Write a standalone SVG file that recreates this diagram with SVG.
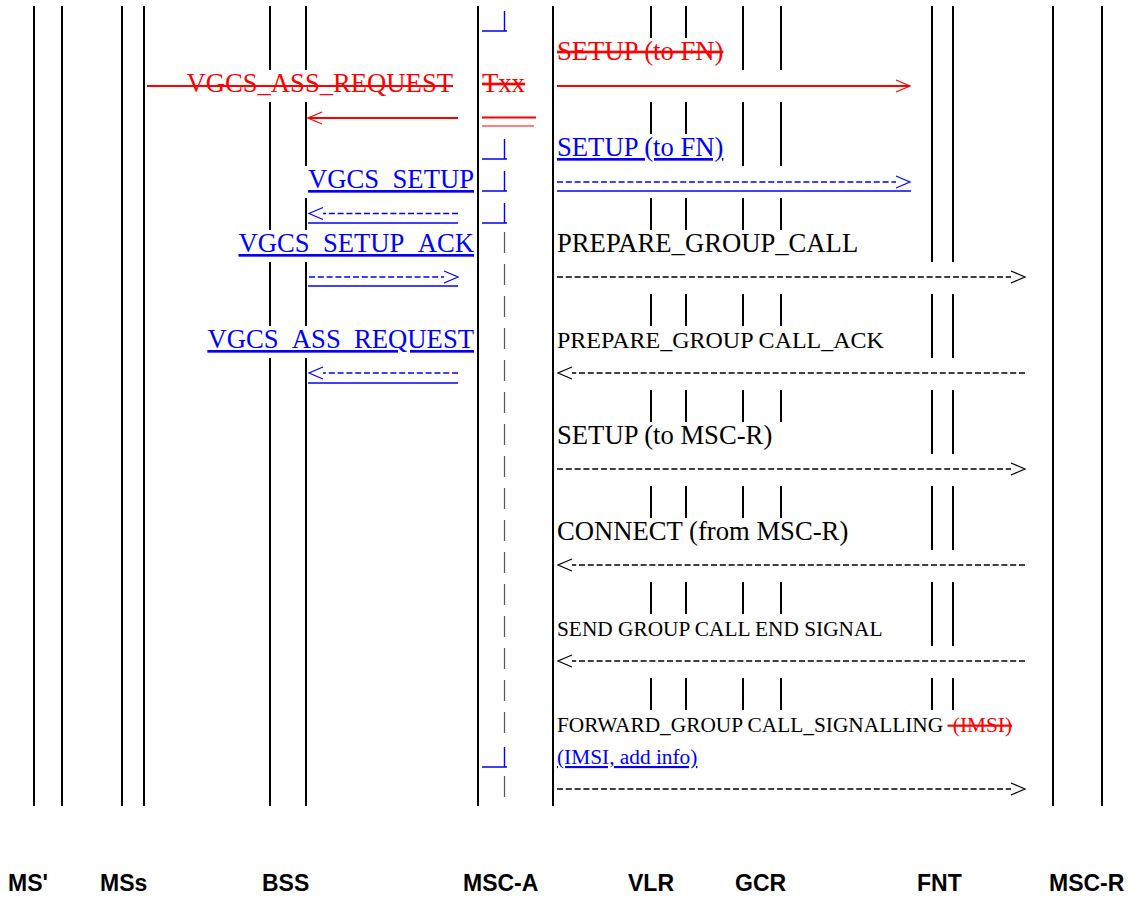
<svg xmlns="http://www.w3.org/2000/svg" width="1134" height="897" viewBox="0 0 1134 897">
<style>
.ll{stroke:#000;stroke-width:2;fill:none}
.t{font-family:"Liberation Serif","Times New Roman",serif;font-size:26.67px;fill:#000}
.s16{font-size:21.33px}
.s18{font-size:24px}
.blue{fill:#00f;text-decoration:underline}
.red{fill:#f00}
.lbl{font-family:"Liberation Sans",Arial,sans-serif;font-weight:bold;font-size:23px;fill:#000}
.dk{stroke:#000;stroke-width:1.4;stroke-dasharray:6 2.8;fill:none}
.db{stroke:#00f;stroke-width:1.4;stroke-dasharray:6 2.8;fill:none}
.ub{stroke:#00f;stroke-width:1.6;fill:none}
.sr{stroke:#f00;stroke-width:1.8;fill:none}
.act{stroke:#555;stroke-width:1.2;fill:none}
.actb{stroke:#00f;stroke-width:1.4;fill:none}
</style>
<defs>
<marker id="hk" markerUnits="userSpaceOnUse" markerWidth="16" markerHeight="14" refX="0" refY="7" orient="auto" overflow="visible"><path d="M0,1 L14,7 L0,13" fill="none" stroke="#000" stroke-width="1.2"/></marker>
<marker id="hb" markerUnits="userSpaceOnUse" markerWidth="16" markerHeight="14" refX="0" refY="7" orient="auto" overflow="visible"><path d="M0,1 L14,7 L0,13" fill="none" stroke="#00f" stroke-width="1.2"/></marker>
<marker id="hr" markerUnits="userSpaceOnUse" markerWidth="16" markerHeight="14" refX="14" refY="7" orient="auto" overflow="visible"><path d="M0,1 L14,7 L0,13" fill="none" stroke="#f00" stroke-width="1.2"/></marker>
</defs>
<rect width="1134" height="897" fill="#fff"/>

<g id="node-ms-prime">
<path class="ll" d="M34,6V806M62,6V806"/>
<text class="lbl" x="8" y="891">MS'</text>
</g>
<g id="node-mss">
<path class="ll" d="M122,6V806M144,6V806"/>
<text class="lbl" x="100" y="891">MSs</text>
</g>
<g id="node-bss">
<path class="ll" d="M270,6V70M270,102V230M270,262V326M270,358V806M306,6V70M306,102V166M306,198V230M306,262V326M306,358V806"/>
<text class="lbl" x="262" y="891">BSS</text>
</g>
<g id="node-msc-a">
<path class="ll" d="M478,6V806M553,6V806"/>
<path class="act" d="M504.5,232V253M504.5,264V285M504.5,296V317M504.5,328V349M504.5,360V381M504.5,392V413M504.5,424V445M504.5,456V477M504.5,488V509M504.5,520V541M504.5,552V573M504.5,584V605M504.5,616V637M504.5,648V669M504.5,680V701M504.5,712V733M504.5,776V797"/>
<path class="actb" d="M482,31H507M504.5,31V11M482,159H507M504.5,159V139M482,191H507M504.5,191V171M482,223H507M504.5,223V203M482,767H507M504.5,767V747"/>
<text class="lbl" x="463" y="891">MSC-A</text>
</g>
<g id="node-vlr">
<path class="ll" d="M651,6V38M651,102V134M651,198V230M651,294V326M651,390V422M651,486V518M651,582V614M651,678V710M686,6V38M686,102V134M686,198V230M686,294V326M686,390V422M686,486V518M686,582V614M686,678V710"/>
<text class="lbl" x="628" y="891">VLR</text>
</g>
<g id="node-gcr">
<path class="ll" d="M743,6V70M743,102V166M743,198V230M743,294V326M743,390V422M743,486V518M743,582V614M743,678V710M781,6V70M781,102V166M781,198V230M781,294V326M781,390V422M781,486V518M781,582V614M781,678V710"/>
<text class="lbl" x="735" y="891">GCR</text>
</g>
<g id="node-fnt">
<path class="ll" d="M932,6V262M932,294V358M932,390V454M932,486V550M932,582V646M932,678V710M953,6V262M953,294V358M953,390V454M953,486V550M953,582V646M953,678V710"/>
<text class="lbl" x="917" y="891">FNT</text>
</g>
<g id="node-msc-r">
<path class="ll" d="M1053,6V806M1102,6V806"/>
<text class="lbl" x="1049" y="891">MSC-R</text>
</g>

<g id="connectors">
<line class="sr" x1="147" y1="86" x2="453" y2="86"/>
<line class="sr" x1="557" y1="86" x2="910" y2="86" marker-end="url(#hr)"/>
<line class="sr" x1="458" y1="118" x2="308" y2="118" marker-end="url(#hr)"/>
<line stroke="#f00" stroke-width="2" x1="482" y1="117.5" x2="536" y2="117.5"/>
<line stroke="#f00" stroke-width="1.2" x1="482" y1="126" x2="534" y2="126"/>
<line class="db" x1="557" y1="182" x2="896" y2="182" marker-end="url(#hb)"/>
<line class="ub" x1="557" y1="191" x2="911" y2="191"/>
<line class="db" x1="458" y1="213.5" x2="323" y2="213.5" marker-end="url(#hb)"/>
<line class="ub" x1="308" y1="223" x2="458" y2="223"/>
<line class="db" x1="309" y1="277" x2="444" y2="277" marker-end="url(#hb)"/>
<line class="ub" x1="308" y1="286" x2="458" y2="286"/>
<line class="db" x1="458" y1="373" x2="323" y2="373" marker-end="url(#hb)"/>
<line class="ub" x1="308" y1="383" x2="458" y2="383"/>
<line class="dk" x1="557" y1="277" x2="1011" y2="277" marker-end="url(#hk)"/>
<line class="dk" x1="1025" y1="373" x2="572" y2="373" marker-end="url(#hk)"/>
<line class="dk" x1="557" y1="469" x2="1011" y2="469" marker-end="url(#hk)"/>
<line class="dk" x1="1025" y1="565" x2="572" y2="565" marker-end="url(#hk)"/>
<line class="dk" x1="1025" y1="661" x2="572" y2="661" marker-end="url(#hk)"/>
<line class="dk" x1="557" y1="789" x2="1011" y2="789" marker-end="url(#hk)"/>
</g>

<g id="message-labels">
<text class="t red" x="557" y="60" text-decoration="line-through">SETUP (to FN)</text>
<text class="t red" x="453" y="92" text-anchor="end">VGCS_ASS_REQUEST</text>
<text class="t red" x="482" y="92" text-decoration="line-through">Txx</text>
<text class="t blue" x="557" y="156">SETUP (to FN)</text>
<text class="t blue" x="474" y="188" text-anchor="end">VGCS_SETUP</text>
<text class="t blue" x="474" y="252" text-anchor="end">VGCS_SETUP_ACK</text>
<text class="t" x="557" y="252">PREPARE_GROUP_CALL</text>
<text class="t blue" x="474" y="348" text-anchor="end">VGCS_ASS_REQUEST</text>
<text class="t s18" x="557" y="348">PREPARE_GROUP CALL_ACK</text>
<text class="t" x="557" y="444">SETUP (to MSC-R)</text>
<text class="t" x="557" y="540">CONNECT (from MSC-R)</text>
<text class="t s16" x="557" y="636">SEND GROUP CALL END SIGNAL</text>
<text class="t s16" x="557" y="732">FORWARD_GROUP CALL_SIGNALLING<tspan x="947.5" fill="#f00" text-decoration="line-through"> (IMSI)</tspan></text>
<text class="t s16 blue" x="557" y="764">(IMSI, add info)</text>
</g>
</svg>
